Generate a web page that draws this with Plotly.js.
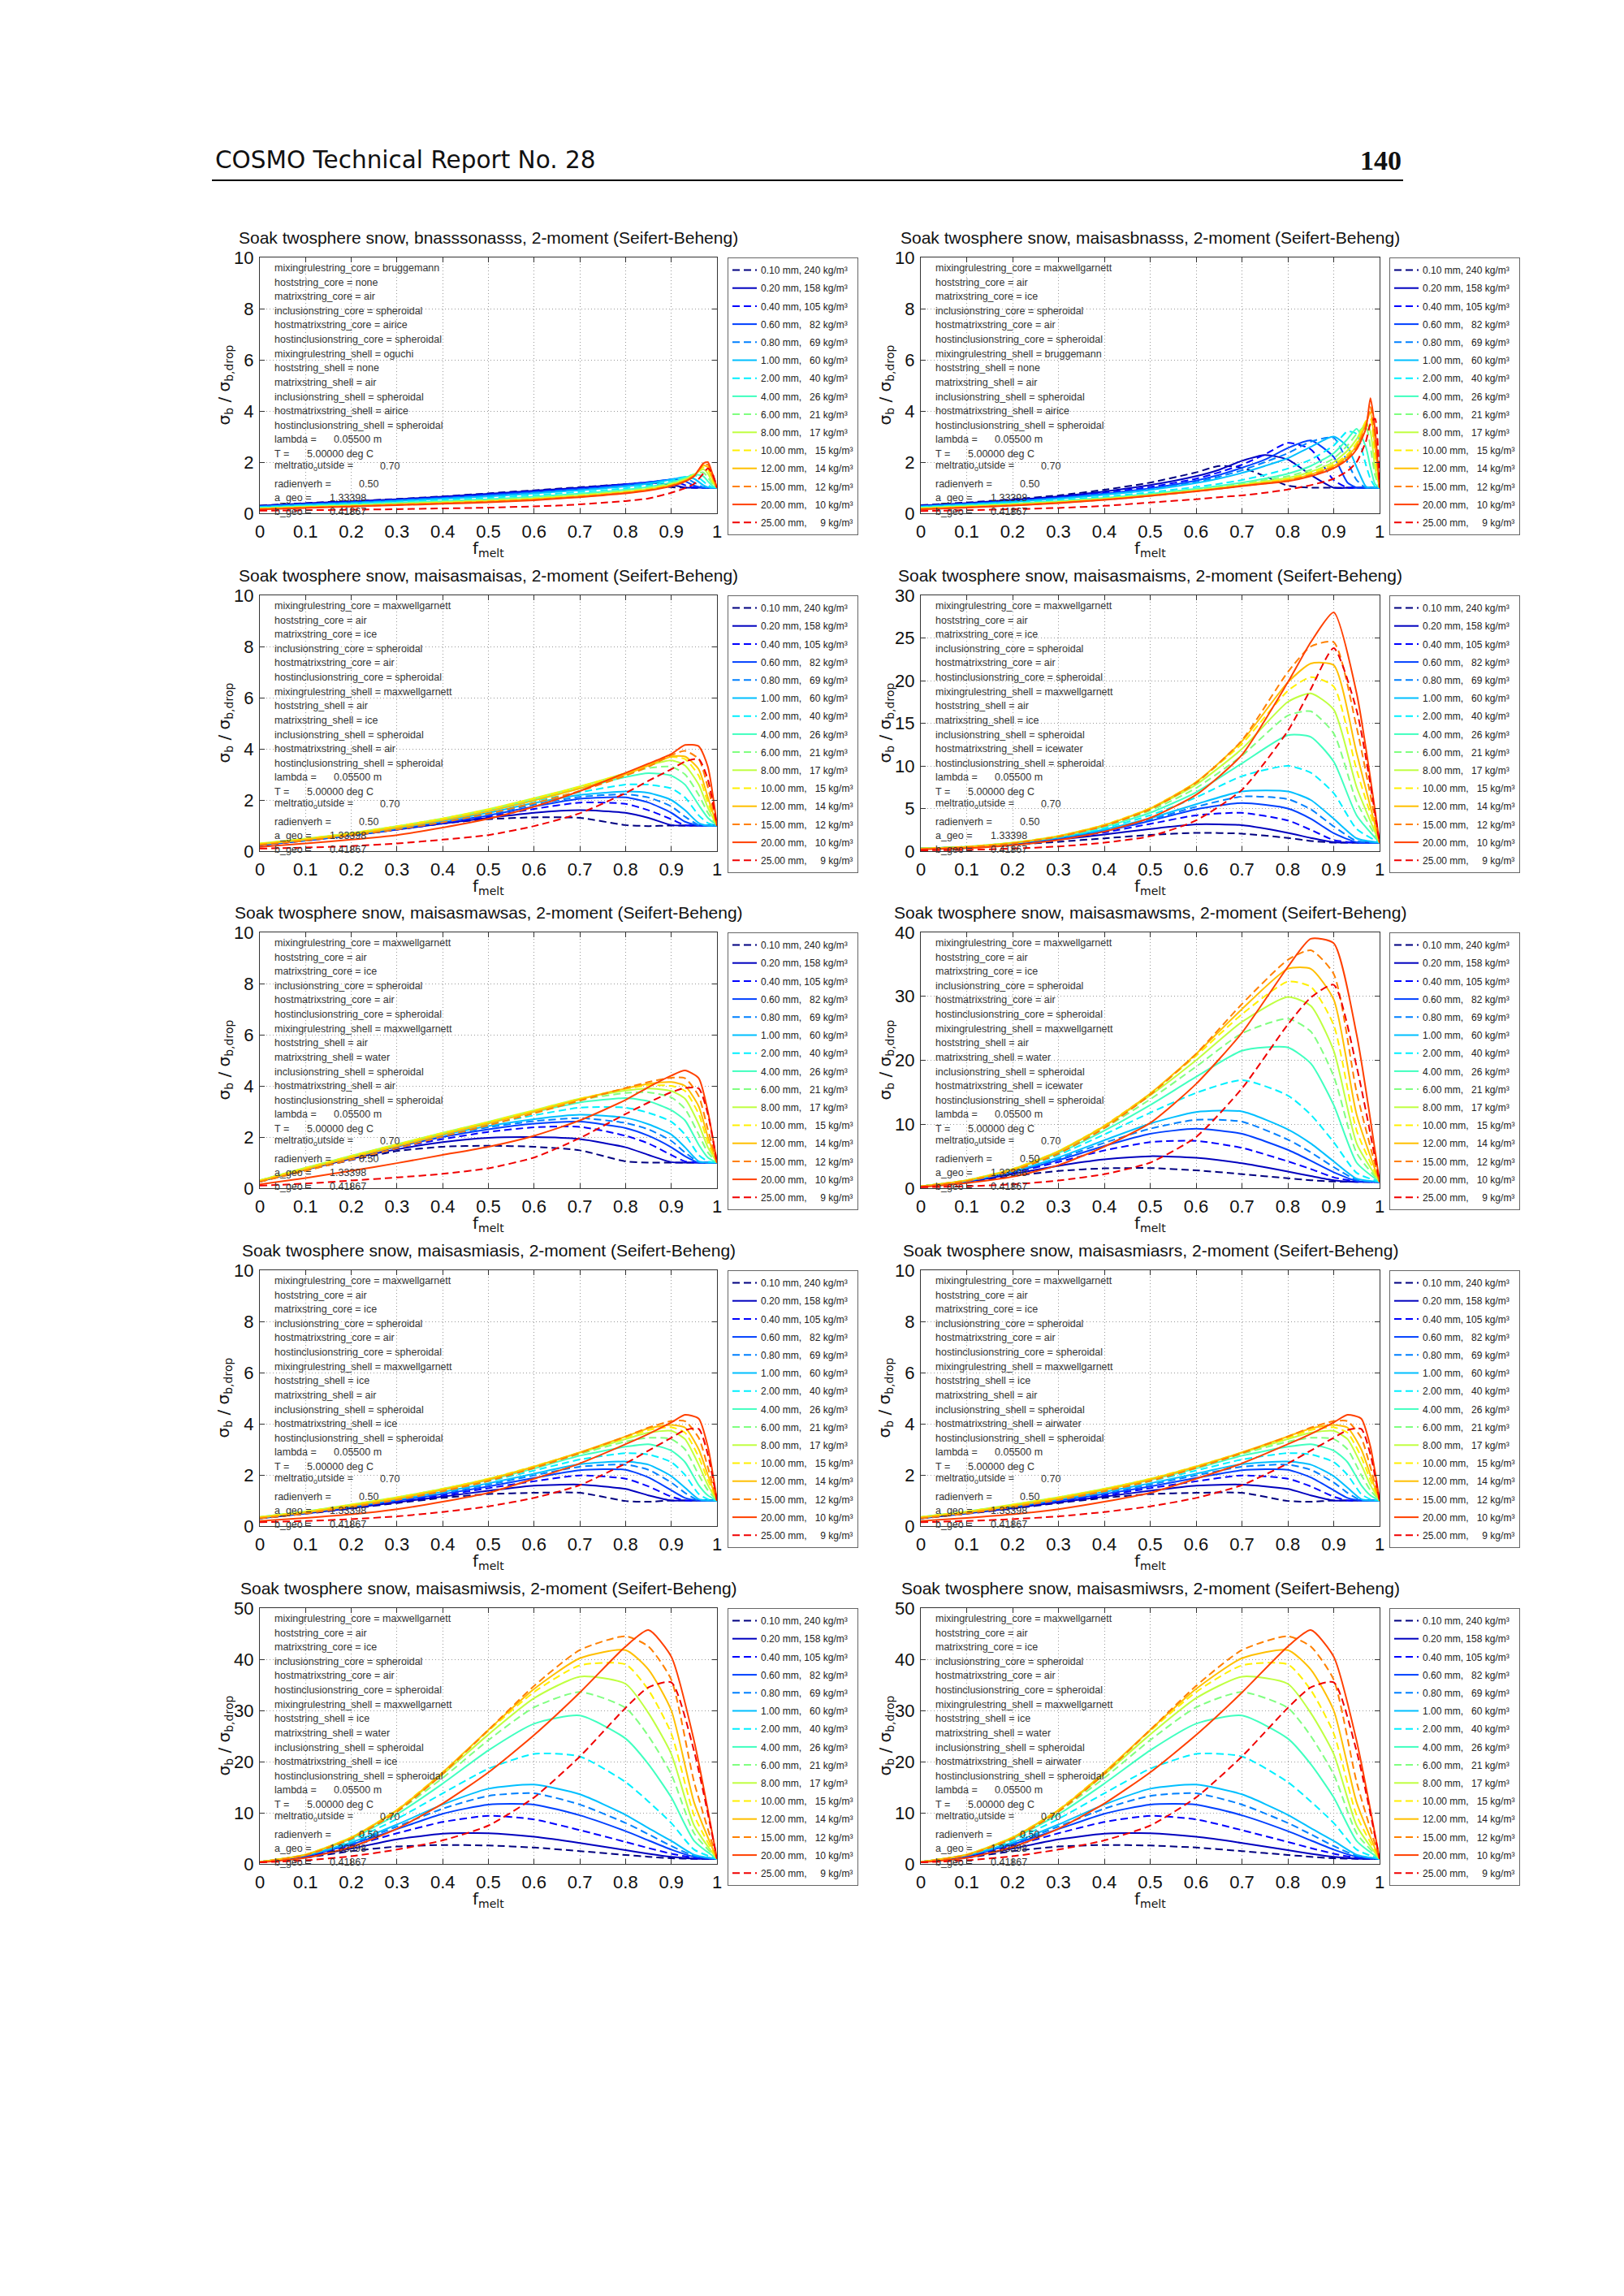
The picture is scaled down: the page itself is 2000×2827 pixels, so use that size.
<!DOCTYPE html>
<html>
<head>
<meta charset="utf-8">
<script src="https://cdn.plot.ly/plotly-3.0.1.min.js"></script>
<style>
  html, body { margin: 0; padding: 0; background: #fff; }
  #page { width: 2000px; height: 2827px; }
</style>
</head>
<body>
<div id="page"></div>
<script>
// ---- legend entries (15 curves per panel) ----
var SIZE_MM = ['0.10','0.20','0.40','0.60','0.80','1.00','2.00','4.00','6.00','8.00','10.00','12.00','15.00','20.00','25.00'];
var RHO = [240, 158, 105, 82, 69, 60, 40, 26, 21, 17, 15, 14, 12, 10, 9];
var DASHED = [true,false,true,false,true,false,true,false,true,false,true,false,true,false,true];
var COLORS = ['rgb(0,0,128)','rgb(0,0,191)','rgb(0,0,255)','rgb(0,64,255)','rgb(0,128,255)',
              'rgb(0,191,255)','rgb(0,240,255)','rgb(64,255,191)','rgb(128,255,128)','rgb(191,255,64)',
              'rgb(255,240,0)','rgb(255,191,0)','rgb(255,128,0)','rgb(255,64,0)','rgb(240,0,0)'];

// ---- f_melt grids ----
var F_A = [0,0.1,0.2,0.3,0.4,0.5,0.6,0.65,0.7,0.75,0.8,0.85,0.9,0.93,0.95,0.97,0.98,0.99,1];
var F_B = [0,0.1,0.2,0.3,0.4,0.5,0.6,0.7,0.8,0.85,0.9,0.93,0.96,0.98,1];
var F_C = [0,0.1,0.2,0.3,0.4,0.5,0.6,0.7,0.8,0.85,0.9,0.95,1];

// ---- sigma_b / sigma_b,drop, one row per curve ----
// bnasssonasss
var Y1 = [
  [0.30,0.40,0.48,0.56,0.66,0.78,0.90,0.96,1.02,1.08,1.13,1.15,1.02,1.0,1,1,1,1,1],
  [0.29,0.39,0.47,0.55,0.65,0.76,0.88,0.94,1.0,1.07,1.14,1.2,1.12,1.0,1,1,1,1,1],
  [0.28,0.37,0.45,0.53,0.63,0.74,0.86,0.92,0.98,1.05,1.13,1.22,1.28,1.1,1.0,1,1,1,1],
  [0.27,0.36,0.44,0.52,0.61,0.72,0.84,0.9,0.96,1.03,1.11,1.21,1.32,1.25,1.08,1,1,1,1],
  [0.26,0.34,0.42,0.5,0.59,0.69,0.81,0.87,0.93,1.0,1.08,1.19,1.33,1.38,1.2,1.02,1,1,1],
  [0.25,0.33,0.4,0.48,0.57,0.66,0.78,0.84,0.9,0.97,1.05,1.16,1.32,1.42,1.35,1.1,1.02,1,1],
  [0.23,0.3,0.37,0.44,0.52,0.6,0.71,0.77,0.83,0.9,0.98,1.09,1.27,1.42,1.5,1.25,1.1,1.02,1],
  [0.21,0.28,0.34,0.41,0.48,0.55,0.65,0.71,0.77,0.84,0.92,1.03,1.21,1.38,1.52,1.45,1.25,1.08,1],
  [0.2,0.26,0.32,0.38,0.45,0.52,0.61,0.67,0.73,0.8,0.88,0.99,1.17,1.35,1.52,1.6,1.4,1.15,1],
  [0.19,0.25,0.3,0.36,0.43,0.49,0.58,0.64,0.7,0.77,0.85,0.96,1.14,1.32,1.52,1.72,1.55,1.22,1],
  [0.18,0.24,0.29,0.35,0.41,0.47,0.56,0.62,0.68,0.75,0.83,0.94,1.12,1.3,1.5,1.8,1.7,1.3,1],
  [0.17,0.23,0.28,0.34,0.4,0.46,0.55,0.6,0.66,0.73,0.81,0.92,1.1,1.28,1.48,1.88,1.8,1.38,1],
  [0.16,0.22,0.27,0.33,0.39,0.45,0.53,0.59,0.65,0.72,0.8,0.91,1.08,1.26,1.46,1.9,1.9,1.45,1],
  [0.15,0.21,0.26,0.32,0.37,0.43,0.51,0.57,0.63,0.7,0.78,0.89,1.06,1.24,1.45,1.95,2.0,1.55,1],
  [0.1,0.12,0.14,0.16,0.19,0.22,0.27,0.3,0.35,0.41,0.48,0.58,0.8,0.98,1.15,1.55,1.75,1.55,1]
];
// maisasbnasss
var Y2 = [
  [0.32,0.42,0.55,0.70,0.92,1.2,1.6,1.85,1.78,1.45,1.08,1.0,1,1,1,1,1,1,1],
  [0.30,0.40,0.52,0.66,0.85,1.1,1.45,1.7,2.05,2.28,2.1,1.5,1.0,1,1,1,1,1,1],
  [0.29,0.38,0.50,0.63,0.80,1.03,1.35,1.6,1.9,2.3,2.75,2.5,1.3,1.0,1,1,1,1,1],
  [0.28,0.37,0.48,0.61,0.77,0.98,1.28,1.5,1.78,2.1,2.55,2.85,2.2,1.2,1.0,1,1,1,1],
  [0.27,0.36,0.47,0.59,0.74,0.94,1.22,1.43,1.68,2.0,2.35,2.8,2.95,2.0,1.3,1.0,1,1,1],
  [0.26,0.35,0.45,0.57,0.72,0.91,1.18,1.36,1.58,1.85,2.15,2.6,3.0,2.6,1.8,1.05,1,1,1],
  [0.24,0.32,0.41,0.52,0.65,0.82,1.03,1.15,1.3,1.5,1.75,2.1,2.65,3.2,3.1,1.9,1.35,1.05,1],
  [0.22,0.3,0.38,0.48,0.6,0.76,0.96,1.07,1.2,1.36,1.55,1.85,2.35,2.9,3.3,2.6,1.8,1.15,1],
  [0.21,0.28,0.36,0.46,0.58,0.73,0.92,1.03,1.15,1.3,1.45,1.7,2.15,2.65,3.1,3.4,2.6,1.5,1],
  [0.2,0.27,0.35,0.44,0.56,0.71,0.9,1.0,1.11,1.25,1.38,1.62,2.0,2.45,2.9,3.55,3.2,1.8,1],
  [0.19,0.26,0.33,0.43,0.55,0.7,0.88,0.98,1.09,1.21,1.34,1.57,1.92,2.3,2.75,3.6,3.7,2.2,1],
  [0.18,0.24,0.32,0.42,0.54,0.69,0.87,0.97,1.08,1.19,1.3,1.52,1.85,2.22,2.65,3.5,3.95,2.6,1],
  [0.16,0.23,0.31,0.41,0.53,0.68,0.86,0.96,1.07,1.17,1.28,1.49,1.8,2.16,2.58,3.4,4.15,3.0,1],
  [0.15,0.22,0.3,0.4,0.52,0.68,0.86,0.96,1.06,1.16,1.25,1.45,1.76,2.1,2.5,3.3,4.5,3.3,1],
  [0.09,0.12,0.16,0.21,0.29,0.42,0.55,0.63,0.7,0.8,0.93,1.1,1.35,1.65,2.0,2.8,3.5,3.7,1]
];
// maisasmaisas
var Y3 = [
  [0.24,0.42,0.62,0.85,1.08,1.25,1.32,1.3,1.02,0.98,1.0,1,1,1,1],
  [0.23,0.41,0.61,0.84,1.08,1.3,1.5,1.6,1.5,1.3,1.02,1,1,1,1],
  [0.23,0.41,0.61,0.84,1.09,1.35,1.65,1.9,1.85,1.6,1.25,1.02,1,1,1],
  [0.24,0.42,0.62,0.86,1.12,1.4,1.75,2.05,2.1,1.9,1.5,1.15,1.0,1,1],
  [0.25,0.43,0.63,0.88,1.15,1.45,1.82,2.12,2.22,2.1,1.75,1.35,1.02,1,1],
  [0.26,0.44,0.64,0.9,1.18,1.5,1.88,2.2,2.33,2.28,2.0,1.6,1.1,1.0,1],
  [0.27,0.46,0.67,0.93,1.22,1.56,1.96,2.3,2.6,2.6,2.45,2.1,1.4,1.1,1],
  [0.28,0.47,0.69,0.95,1.25,1.6,2.02,2.45,2.9,3.05,2.95,2.6,1.8,1.3,1],
  [0.29,0.48,0.7,0.97,1.27,1.62,2.05,2.5,3.0,3.25,3.3,3.0,2.2,1.5,1],
  [0.3,0.49,0.71,0.98,1.28,1.64,2.07,2.53,3.05,3.35,3.55,3.35,2.6,1.7,1],
  [0.29,0.48,0.7,0.97,1.27,1.63,2.06,2.52,3.05,3.38,3.68,3.6,2.95,1.9,1],
  [0.27,0.45,0.66,0.92,1.21,1.56,1.98,2.45,3.0,3.35,3.7,3.7,3.2,2.1,1],
  [0.24,0.41,0.61,0.85,1.13,1.47,1.88,2.35,2.95,3.3,3.75,3.92,3.6,2.5,1],
  [0.17,0.3,0.45,0.63,0.92,1.27,1.74,2.35,3.06,3.42,3.8,4.15,4.1,3.3,1],
  [0.1,0.14,0.2,0.3,0.45,0.63,0.98,1.48,2.27,2.75,3.2,3.5,3.6,2.8,1]
];
// maisasmaisms
var Y4 = [
  [0.3,0.45,0.75,1.1,1.5,1.9,2.15,2.05,1.55,1.2,1.0,1.0,1],
  [0.3,0.5,0.85,1.35,1.95,2.6,3.15,3.05,2.15,1.55,1.05,1,1],
  [0.3,0.5,0.9,1.45,2.2,3.2,4.2,4.5,3.6,2.5,1.3,1.0,1],
  [0.3,0.5,0.9,1.5,2.35,3.55,4.9,5.65,5.0,3.8,2.1,1.05,1],
  [0.3,0.5,0.92,1.55,2.45,3.7,5.2,6.4,6.1,4.9,2.9,1.2,1],
  [0.3,0.5,0.93,1.6,2.55,3.85,5.5,7.0,7.0,6.0,3.8,1.5,1],
  [0.3,0.52,0.95,1.65,2.7,4.2,6.3,8.8,10.0,9.2,6.8,2.6,1],
  [0.3,0.52,0.97,1.7,2.85,4.5,6.9,10.3,13.6,13.4,10.5,4.2,1],
  [0.3,0.53,0.98,1.75,2.95,4.75,7.4,11.2,15.9,16.4,13.8,5.8,1],
  [0.3,0.53,0.99,1.78,3.05,4.95,7.8,12.0,17.5,18.5,16.6,7.5,1],
  [0.3,0.52,0.98,1.78,3.1,5.05,8.1,12.6,18.8,20.4,19.3,9.5,1],
  [0.28,0.5,0.95,1.75,3.05,5.0,8.1,12.9,19.8,22.0,21.8,11.5,1],
  [0.25,0.46,0.9,1.68,2.95,4.9,8.0,13.0,21.0,24.0,24.5,14.5,1],
  [0.2,0.35,0.7,1.3,2.3,3.9,6.6,11.3,19.8,24.5,28.0,18.5,1],
  [0.1,0.15,0.3,0.55,1.0,1.75,3.6,7.2,14.1,19.0,23.8,16.5,1]
];
// maisasmawsas
var Y5 = [
  [0.25,0.7,1.1,1.45,1.62,1.66,1.62,1.48,1.05,1.0,1,1,1,1,1],
  [0.26,0.72,1.15,1.52,1.8,1.97,2.0,1.92,1.6,1.3,1.02,1,1,1,1],
  [0.27,0.74,1.18,1.58,1.92,2.2,2.38,2.4,2.05,1.75,1.3,1.05,1,1,1],
  [0.28,0.75,1.2,1.62,2.0,2.3,2.52,2.6,2.35,2.05,1.6,1.25,1,1,1],
  [0.28,0.76,1.21,1.64,2.05,2.38,2.62,2.74,2.55,2.3,1.85,1.4,1.02,1,1],
  [0.29,0.77,1.22,1.66,2.08,2.43,2.7,2.87,2.75,2.5,2.1,1.6,1.05,1,1],
  [0.3,0.78,1.24,1.68,2.12,2.5,2.85,3.15,3.15,2.95,2.6,2.1,1.3,1.05,1],
  [0.3,0.79,1.25,1.7,2.15,2.56,2.98,3.35,3.52,3.4,3.05,2.65,1.7,1.2,1],
  [0.31,0.79,1.26,1.71,2.16,2.58,3.02,3.45,3.72,3.75,3.55,3.1,2.1,1.4,1],
  [0.31,0.8,1.27,1.72,2.17,2.6,3.05,3.5,3.82,3.9,3.8,3.5,2.5,1.6,1],
  [0.3,0.78,1.25,1.7,2.15,2.58,3.03,3.5,3.88,4.02,4.0,3.8,2.9,1.8,1],
  [0.28,0.74,1.2,1.64,2.1,2.53,2.99,3.47,3.9,4.08,4.15,4.0,3.2,2.0,1],
  [0.25,0.68,1.12,1.56,2.02,2.46,2.93,3.42,3.92,4.15,4.32,4.3,3.6,2.3,1],
  [0.15,0.4,0.68,0.98,1.3,1.62,2.05,2.65,3.45,3.95,4.4,4.6,4.3,3.0,1],
  [0.1,0.18,0.3,0.42,0.56,0.78,1.2,1.96,2.9,3.35,3.75,3.92,3.9,2.9,1]
];
// maisasmawsms
var Y6 = [
  [0.3,0.9,1.9,2.7,3.1,3.15,2.8,2.2,1.55,1.25,1.05,1.0,1],
  [0.3,1.0,2.2,3.5,4.5,5.0,4.75,3.9,2.6,1.9,1.25,1.0,1],
  [0.3,1.05,2.4,4.1,5.9,7.2,7.4,6.3,4.2,3.0,1.7,1.05,1],
  [0.3,1.1,2.5,4.4,6.6,8.5,9.3,8.5,6.0,4.3,2.5,1.15,1],
  [0.3,1.1,2.6,4.6,7.1,9.3,10.7,10.4,7.6,5.6,3.3,1.3,1],
  [0.3,1.15,2.65,4.8,7.5,10.1,11.9,12.0,9.2,7.0,4.2,1.5,1],
  [0.3,1.2,2.8,5.2,8.4,11.8,14.9,16.9,14.5,11.5,7.2,2.4,1],
  [0.3,1.2,2.9,5.5,9.0,13.0,17.4,21.5,22.0,19.5,13.0,4.0,1],
  [0.3,1.25,2.95,5.7,9.4,13.9,19.0,24.2,26.5,24.5,17.5,5.5,1],
  [0.3,1.25,3.0,5.8,9.7,14.5,20.0,26.0,29.9,28.5,21.5,7.0,1],
  [0.3,1.25,3.0,5.8,9.8,14.8,20.7,27.2,32.3,31.5,25.5,9.0,1],
  [0.28,1.2,2.9,5.7,9.7,14.8,21.0,28.0,34.3,34.3,29.5,11.5,1],
  [0.25,1.1,2.7,5.4,9.4,14.6,21.0,28.8,35.7,37.2,33.5,15.0,1],
  [0.2,0.8,1.8,3.6,6.5,10.2,16.3,24.3,34.6,39.0,38.3,24.0,1],
  [0.15,0.3,0.6,1.2,2.2,4.0,8.0,15.6,25.6,29.8,31.8,19.0,1]
];
// maisasmiasis (maisasmiasrs reads the same)
var Y7 = [
  [0.3,0.48,0.68,0.9,1.1,1.25,1.3,1.3,0.98,0.95,1,1,1,1,1],
  [0.3,0.49,0.7,0.93,1.15,1.38,1.58,1.62,1.45,1.2,1.0,1,1,1,1],
  [0.31,0.5,0.72,0.96,1.2,1.48,1.75,1.98,1.85,1.55,1.15,1.0,1,1,1],
  [0.32,0.51,0.74,0.99,1.25,1.55,1.88,2.18,2.2,1.9,1.4,1.1,1,1,1],
  [0.33,0.52,0.76,1.02,1.3,1.62,1.98,2.32,2.4,2.2,1.7,1.3,1.0,1,1],
  [0.33,0.53,0.77,1.04,1.33,1.67,2.05,2.42,2.52,2.4,1.95,1.5,1.05,1,1],
  [0.34,0.55,0.8,1.08,1.38,1.75,2.17,2.6,2.85,2.8,2.5,2.0,1.25,1.05,1],
  [0.35,0.56,0.82,1.1,1.42,1.8,2.25,2.75,3.1,3.2,2.95,2.5,1.6,1.2,1],
  [0.35,0.57,0.83,1.12,1.45,1.83,2.3,2.82,3.3,3.45,3.4,3.0,2.0,1.4,1],
  [0.36,0.57,0.84,1.13,1.46,1.85,2.33,2.86,3.4,3.65,3.72,3.4,2.4,1.6,1],
  [0.35,0.56,0.83,1.12,1.45,1.85,2.34,2.88,3.45,3.75,3.86,3.65,2.7,1.8,1],
  [0.33,0.53,0.79,1.08,1.42,1.82,2.32,2.88,3.5,3.82,3.95,3.85,3.0,2.0,1],
  [0.3,0.49,0.74,1.02,1.36,1.76,2.27,2.85,3.5,3.85,4.1,4.1,3.45,2.3,1],
  [0.2,0.32,0.46,0.66,0.95,1.3,1.85,2.45,3.2,3.6,4.05,4.35,4.2,3.1,1],
  [0.15,0.2,0.27,0.38,0.55,0.77,1.1,1.6,2.45,2.95,3.45,3.75,3.8,2.8,1]
];
var Y8 = Y7;
// maisasmiwsis (maisasmiwsrs reads the same)
var Y9 = [
  [0.4,1.2,2.5,3.4,3.7,3.6,3.2,2.5,1.75,1.4,1.1,1.0,1],
  [0.4,1.4,3.0,4.8,5.9,6.0,5.3,4.1,2.7,2.0,1.4,1.05,1],
  [0.4,1.5,3.5,6.0,8.2,9.4,8.7,6.6,4.3,3.1,2.0,1.2,1],
  [0.4,1.6,3.8,6.8,9.8,11.6,11.6,9.5,6.4,4.6,2.8,1.4,1],
  [0.4,1.65,4.0,7.3,10.8,13.3,13.8,11.6,8.0,5.8,3.5,1.6,1],
  [0.4,1.7,4.2,7.7,11.6,14.7,15.5,13.6,9.6,7.0,4.5,1.8,1],
  [0.4,1.75,4.6,8.8,13.8,18.6,21.5,21.0,16.0,12.2,8.0,2.8,1],
  [0.4,1.8,4.9,9.7,15.7,22.2,27.4,29.0,24.5,19.5,13.0,4.5,1],
  [0.4,1.8,5.1,10.2,16.8,24.2,30.6,33.6,30.5,25.0,17.5,6.0,1],
  [0.4,1.85,5.2,10.5,17.5,25.3,32.4,36.6,35.2,29.5,21.5,7.5,1],
  [0.4,1.85,5.2,10.6,17.9,26.0,33.6,38.8,39.0,34.0,25.5,9.5,1],
  [0.38,1.8,5.1,10.5,17.9,26.2,34.2,40.2,41.8,38.0,30.0,12.0,1],
  [0.35,1.7,4.9,10.2,17.6,26.2,34.8,41.8,44.5,42.5,36.0,16.0,1],
  [0.3,1.2,3.3,6.9,11.8,17.9,25.2,33.5,42.5,45.7,40.5,24.0,1],
  [0.3,0.7,1.5,2.8,4.6,7.5,13.0,21.0,30.5,34.5,35.5,22.0,1]
];
var Y10 = Y9;

// ---- panel texts ----
var CODES = ['bnasssonasss','maisasbnasss','maisasmaisas','maisasmaisms','maisasmawsas',
             'maisasmawsms','maisasmiasis','maisasmiasrs','maisasmiwsis','maisasmiwsrs'];
var CORE_BN = ['bruggemann','none','air','spheroidal','airice','spheroidal'];
var CORE_MG = ['maxwellgarnett','air','ice','spheroidal','air','spheroidal'];
var SHELLS = [
  ['oguchi','none','air','spheroidal','airice','spheroidal'],
  ['bruggemann','none','air','spheroidal','airice','spheroidal'],
  ['maxwellgarnett','air','ice','spheroidal','air','spheroidal'],
  ['maxwellgarnett','air','ice','spheroidal','icewater','spheroidal'],
  ['maxwellgarnett','air','water','spheroidal','air','spheroidal'],
  ['maxwellgarnett','air','water','spheroidal','icewater','spheroidal'],
  ['maxwellgarnett','ice','air','spheroidal','ice','spheroidal'],
  ['maxwellgarnett','ice','air','spheroidal','airwater','spheroidal'],
  ['maxwellgarnett','ice','water','spheroidal','ice','spheroidal'],
  ['maxwellgarnett','ice','water','spheroidal','airwater','spheroidal']
];
var KEYS = ['mixingrulestring','hoststring','matrixstring','inclusionstring','hostmatrixstring','hostinclusionstring'];
var PARAMS = [['lambda =','0.05500 m'],['T =','5.00000 deg C'],['meltratio<sub>o</sub>utside =','0.70'],
              ['radienverh =','0.50'],['a_geo =','1.33398'],['b_geo =','0.41867']];

var YMAX = [10,10,10,30,10,40,10,10,50,50];
var YSTEP = [2,2,2,5,2,10,2,2,10,10];
var FGRID = [F_A,F_A,F_B,F_C,F_B,F_C,F_B,F_B,F_C,F_C];
var YDATA = [Y1,Y2,Y3,Y4,Y5,Y6,Y7,Y8,Y9,Y10];

// ---- page geometry (px) ----
var COLS = [{l:320, r:883, lx:896}, {l:1134, r:1699, lx:1711}];
var ROWS = [{t:317, b:632}, {t:733, b:1048}, {t:1148, b:1463}, {t:1564, b:1879}, {t:1980, b:2295}];
var INFO_DY = [13.3,30.7,48.3,65.7,83.3,101,118.7,136.3,154,171.7,189,206.7,224.3,241.7,256.7,278.7,296,313.3];
var VAL_DX = [72.5,39.8,130,103.6,67.9,67.9];

var W = 2000, H = 2827;
function px(x) { return x / W; }
function py(y) { return 1 - y / H; }

var SANS = 'Liberation Sans, Arial, Helvetica, sans-serif';
var NBSP = '\u00a0';

function legendName(i) {
  var pad = RHO[i] >= 100 ? '' : (RHO[i] >= 10 ? NBSP + NBSP : NBSP + NBSP + NBSP + NBSP);
  return SIZE_MM[i] + ' mm, ' + pad + RHO[i] + ' kg/m\u00b3';
}

var traces = [];
var annotations = [];
var layout = {
  width: W, height: H,
  margin: {l: 0, r: 0, t: 0, b: 0},
  paper_bgcolor: '#fff', plot_bgcolor: '#fff',
  font: {family: SANS, color: '#111'},
  showlegend: true,
  shapes: [{type: 'line', xref: 'paper', yref: 'paper', x0: px(261), x1: px(1728),
            y0: py(222), y1: py(222), line: {color: '#000', width: 2}}]
};

annotations.push({xref: 'paper', yref: 'paper', x: px(263), y: py(197), xanchor: 'left', yanchor: 'middle',
  showarrow: false, text: 'COSMO Technical Report No. 28',
  font: {family: 'DejaVu Sans, sans-serif', size: 29.5, color: '#111'}});
annotations.push({xref: 'paper', yref: 'paper', x: px(1728), y: py(197), xanchor: 'right', yanchor: 'middle',
  showarrow: false, text: '<b>140</b>',
  font: {family: 'Liberation Serif, serif', size: 34, color: '#111'}});

var xticks = [], xtext = [];
for (var t = 0; t <= 10; t++) { xticks.push(t / 10); xtext.push(t === 0 ? '0' : (t === 10 ? '1' : '0.' + t)); }

for (var k = 0; k < 10; k++) {
  var n = k + 1;
  var col = COLS[k % 2], row = ROWS[Math.floor(k / 2)];
  var bx = {l: col.l, r: col.r, lx: col.lx, t: row.t, b: row.b};
  var xa = 'xaxis' + (n === 1 ? '' : n), ya = 'yaxis' + (n === 1 ? '' : n);
  var xr = 'x' + (n === 1 ? '' : n), yr = 'y' + (n === 1 ? '' : n);
  var lg = 'legend' + (n === 1 ? '' : n);

  var common = {
    showline: true, mirror: 'ticks', linecolor: '#333', linewidth: 1,
    ticks: 'inside', ticklen: 6, tickcolor: '#333',
    showgrid: true, gridcolor: '#999', griddash: '1px,3px', gridwidth: 1,
    zeroline: false, fixedrange: true,
    tickfont: {family: SANS, size: 22, color: '#111'}
  };
  layout[xa] = Object.assign({}, common, {
    domain: [px(bx.l), px(bx.r)], anchor: yr, range: [0, 1],
    tickmode: 'array', tickvals: xticks, ticktext: xtext, ticklabelstandoff: 3
  });
  layout[ya] = Object.assign({}, common, {
    domain: [py(bx.b), py(bx.t)], anchor: xr, range: [0, YMAX[k]],
    tick0: 0, dtick: YSTEP[k], ticklabelstandoff: 2
  });
  layout[lg] = {
    x: px(bx.lx), y: py(bx.t), xanchor: 'left', yanchor: 'top',
    bgcolor: '#fff', bordercolor: '#666', borderwidth: 1,
    font: {family: SANS, size: 12, color: '#222'},
    tracegroupgap: 3.2, itemwidth: 30, traceorder: 'grouped'
  };

  for (var i = 0; i < 15; i++) {
    traces.push({
      type: 'scatter', mode: 'lines',
      x: FGRID[k], y: YDATA[k][i],
      xaxis: xr, yaxis: yr, legend: lg, legendgroup: 'p' + n + 'c' + i,
      name: legendName(i),
      line: {color: COLORS[i], width: 2, dash: DASHED[i] ? '9px,5px' : 'solid', shape: 'spline', smoothing: 0.6},
      hoverinfo: 'skip'
    });
  }

  // title
  annotations.push({xref: 'paper', yref: 'paper', x: px((bx.l + bx.r) / 2), y: py(bx.t - 25),
    xanchor: 'center', yanchor: 'middle', showarrow: false,
    text: 'Soak twosphere snow, ' + CODES[k] + ', 2-moment (Seifert-Beheng)',
    font: {family: SANS, size: 21, color: '#111'}});
  // axis labels
  annotations.push({xref: 'paper', yref: 'paper', x: px(bx.l - 44), y: py((bx.t + bx.b) / 2),
    xanchor: 'center', yanchor: 'middle', showarrow: false, textangle: -90,
    text: 'σ<sub>b</sub> / σ<sub>b,drop</sub>',
    font: {family: 'DejaVu Sans, sans-serif', size: 20, color: '#111'}});
  annotations.push({xref: 'paper', yref: 'paper', x: px((bx.l + bx.r) / 2), y: py(bx.b + 44),
    xanchor: 'center', yanchor: 'middle', showarrow: false,
    text: 'f<sub>melt</sub>',
    font: {family: 'DejaVu Sans, sans-serif', size: 20, color: '#111'}});

  // info text inside the axes
  var core = (k === 0) ? CORE_BN : CORE_MG;
  var lines = [];
  for (var j = 0; j < 6; j++) lines.push(KEYS[j] + '_core = ' + core[j]);
  for (var j2 = 0; j2 < 6; j2++) lines.push(KEYS[j2] + '_shell = ' + SHELLS[k][j2]);
  for (var j3 = 0; j3 < 6; j3++) lines.push(PARAMS[j3][0]);
  for (var m = 0; m < lines.length; m++) {
    annotations.push({xref: 'paper', yref: 'paper', x: px(bx.l + 16.3), y: py(bx.t + INFO_DY[m]),
      xanchor: 'left', yanchor: 'middle', showarrow: false, text: lines[m],
      font: {family: SANS, size: 12.5, color: '#333'}});
  }
  for (var v = 0; v < 6; v++) {
    annotations.push({xref: 'paper', yref: 'paper', x: px(bx.l + 16.3 + VAL_DX[v]), y: py(bx.t + INFO_DY[12 + v]),
      xanchor: 'left', yanchor: 'middle', showarrow: false, text: PARAMS[v][1],
      font: {family: SANS, size: 12.5, color: '#333'}});
  }
}

layout.annotations = annotations;

Plotly.newPlot('page', traces, layout, {staticPlot: true, displayModeBar: false});
</script>
</body>
</html>
